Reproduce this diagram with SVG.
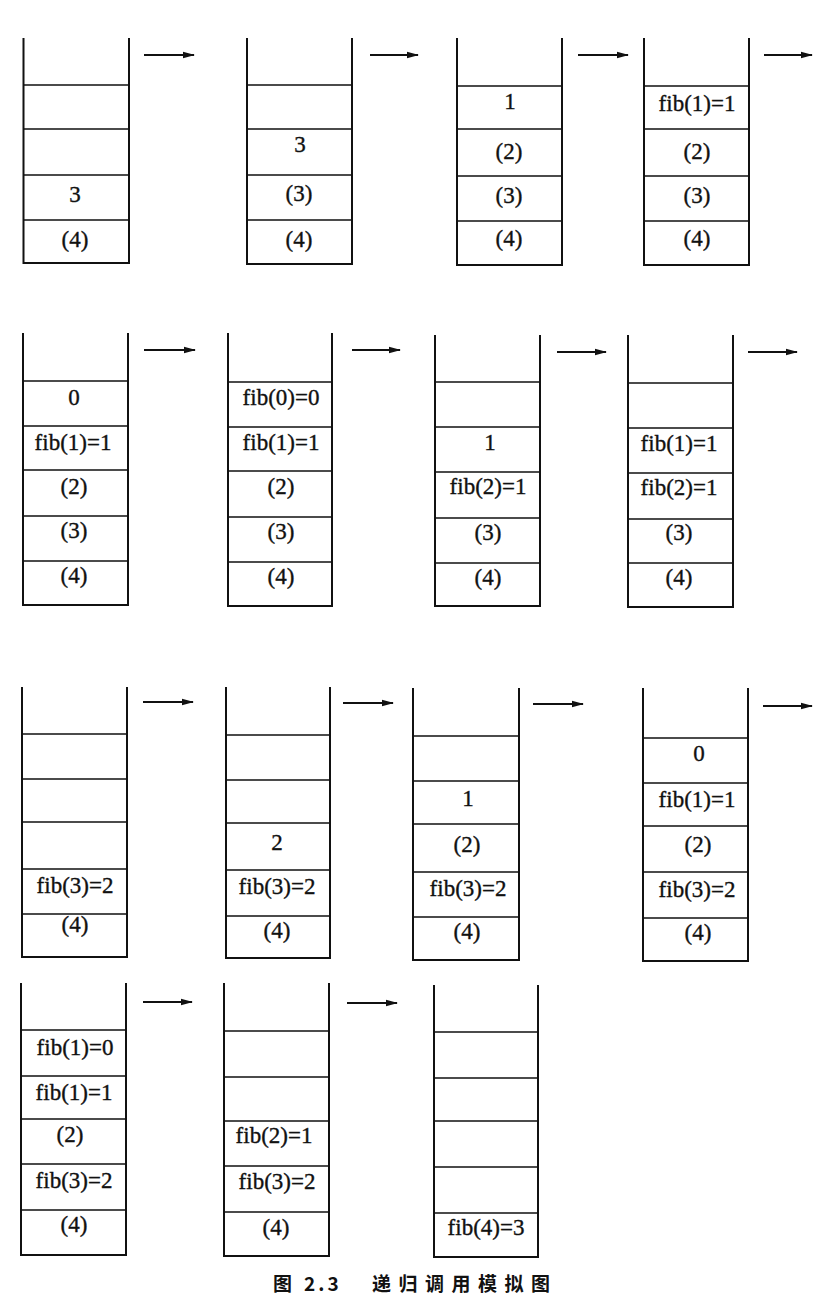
<svg xmlns="http://www.w3.org/2000/svg" width="840" height="1308" viewBox="0 0 840 1308">
<defs>
<style>
.frame{fill:none;stroke:#111;stroke-width:2;stroke-linejoin:miter}
.div{stroke:#111;stroke-width:1.6}
.t{font-family:"Liberation Serif","Times New Roman",serif;font-size:23px;fill:#111;stroke:#111;stroke-width:0.35;text-anchor:middle}
.arrow{stroke:#111;stroke-width:1.8;marker-end:url(#ah)}
.cap{font-family:"Noto Sans CJK SC","Noto Sans",sans-serif;font-size:19px;font-weight:700;fill:#111}
</style>
<marker id="ah" markerUnits="userSpaceOnUse" markerWidth="12" markerHeight="8" refX="11" refY="4" orient="auto">
<path d="M0,0.8 L12,4 L0,7.2 z" fill="#111"/>
</marker>
</defs>
<rect width="840" height="1308" fill="#fff"/>

<!-- Row 1 -->
<g id="stack1">
<path class="frame" d="M23.5,38 V263 H129 V38"/>
<path class="div" d="M23.5,85 H129 M23.5,129 H129 M23.5,175 H129 M23.5,220 H129"/>
<text class="t" x="75" y="202">3</text>
<text class="t" x="75" y="247">(4)</text>
</g>
<g id="stack2">
<path class="frame" d="M247,38 V264 H352 V38"/>
<path class="div" d="M247,85 H352 M247,129 H352 M247,175 H352 M247,220 H352"/>
<text class="t" x="300" y="152">3</text>
<text class="t" x="299" y="201">(3)</text>
<text class="t" x="299" y="247">(4)</text>
</g>
<g id="stack3">
<path class="frame" d="M457,38 V265 H562 V38"/>
<path class="div" d="M457,86 H562 M457,129 H562 M457,176 H562 M457,221 H562"/>
<text class="t" x="510" y="109">1</text>
<text class="t" x="509" y="159">(2)</text>
<text class="t" x="509" y="203">(3)</text>
<text class="t" x="509" y="246">(4)</text>
</g>
<g id="stack4">
<path class="frame" d="M644,38 V265 H749 V38"/>
<path class="div" d="M644,86 H749 M644,129 H749 M644,176 H749 M644,221 H749"/>
<text class="t" x="697" y="111">fib(1)=1</text>
<text class="t" x="697" y="159">(2)</text>
<text class="t" x="697" y="203">(3)</text>
<text class="t" x="697" y="246">(4)</text>
</g>

<!-- Row 2 -->
<g id="stack5">
<path class="frame" d="M23,333 V605 H128 V333"/>
<path class="div" d="M23,381 H128 M23,426 H128 M23,470 H128 M23,516 H128 M23,561 H128"/>
<text class="t" x="74" y="405">0</text>
<text class="t" x="73" y="450">fib(1)=1</text>
<text class="t" x="74" y="494">(2)</text>
<text class="t" x="74" y="538">(3)</text>
<text class="t" x="74" y="583">(4)</text>
</g>
<g id="stack6">
<path class="frame" d="M228,333 V606 H332 V333"/>
<path class="div" d="M228,382 H332 M228,427 H332 M228,471 H332 M228,517 H332 M228,562 H332"/>
<text class="t" x="281" y="405">fib(0)=0</text>
<text class="t" x="281" y="450">fib(1)=1</text>
<text class="t" x="281" y="494">(2)</text>
<text class="t" x="281" y="539">(3)</text>
<text class="t" x="281" y="584">(4)</text>
</g>
<g id="stack7">
<path class="frame" d="M435,335 V606 H540 V335"/>
<path class="div" d="M435,382 H540 M435,427 H540 M435,472 H540 M435,518 H540 M435,563 H540"/>
<text class="t" x="490" y="450">1</text>
<text class="t" x="488" y="494">fib(2)=1</text>
<text class="t" x="488" y="540">(3)</text>
<text class="t" x="488" y="585">(4)</text>
</g>
<g id="stack8">
<path class="frame" d="M628,335 V607 H733 V335"/>
<path class="div" d="M628,383 H733 M628,428 H733 M628,473 H733 M628,519 H733 M628,563 H733"/>
<text class="t" x="679" y="451">fib(1)=1</text>
<text class="t" x="679" y="495">fib(2)=1</text>
<text class="t" x="679" y="540">(3)</text>
<text class="t" x="679" y="585">(4)</text>
</g>

<!-- Row 3 -->
<g id="stack9">
<path class="frame" d="M22,687 V957 H127 V687"/>
<path class="div" d="M22,734 H127 M22,779 H127 M22,822 H127 M22,869 H127 M22,914 H127"/>
<text class="t" x="75" y="893">fib(3)=2</text>
<text class="t" x="75" y="932">(4)</text>
</g>
<g id="stack10">
<path class="frame" d="M226,687 V958 H330 V687"/>
<path class="div" d="M226,735 H330 M226,780 H330 M226,823 H330 M226,870 H330 M226,916 H330"/>
<text class="t" x="277" y="850">2</text>
<text class="t" x="277" y="894">fib(3)=2</text>
<text class="t" x="277" y="938">(4)</text>
</g>
<g id="stack11">
<path class="frame" d="M413,688 V960 H519 V688"/>
<path class="div" d="M413,736 H519 M413,781 H519 M413,824 H519 M413,872 H519 M413,917 H519"/>
<text class="t" x="468" y="806">1</text>
<text class="t" x="467" y="852">(2)</text>
<text class="t" x="468" y="896">fib(3)=2</text>
<text class="t" x="467" y="939">(4)</text>
</g>
<g id="stack12">
<path class="frame" d="M643,688 V961 H748 V688"/>
<path class="div" d="M643,738 H748 M643,783 H748 M643,826 H748 M643,872 H748 M643,918 H748"/>
<text class="t" x="699" y="761">0</text>
<text class="t" x="697" y="807">fib(1)=1</text>
<text class="t" x="698" y="852">(2)</text>
<text class="t" x="697" y="897">fib(3)=2</text>
<text class="t" x="698" y="940">(4)</text>
</g>

<!-- Row 4 -->
<g id="stack13">
<path class="frame" d="M21,983 V1255 H126 V983"/>
<path class="div" d="M21,1030 H126 M21,1076 H126 M21,1119 H126 M21,1164 H126 M21,1210 H126"/>
<text class="t" x="75" y="1055">fib(1)=0</text>
<text class="t" x="74" y="1100">fib(1)=1</text>
<text class="t" x="70" y="1142">(2)</text>
<text class="t" x="74" y="1188">fib(3)=2</text>
<text class="t" x="74" y="1232">(4)</text>
</g>
<g id="stack14">
<path class="frame" d="M224,983 V1256 H329 V983"/>
<path class="div" d="M224,1031 H329 M224,1077 H329 M224,1121 H329 M224,1166 H329 M224,1212 H329"/>
<text class="t" x="274" y="1143">fib(2)=1</text>
<text class="t" x="277" y="1189">fib(3)=2</text>
<text class="t" x="276" y="1235">(4)</text>
</g>
<g id="stack15">
<path class="frame" d="M434,985 V1257 H538 V985"/>
<path class="div" d="M434,1032 H538 M434,1078 H538 M434,1121 H538 M434,1167 H538 M434,1213 H538"/>
<text class="t" x="486" y="1235">fib(4)=3</text>
</g>

<g id="connectors">
<line class="arrow" x1="144" y1="55" x2="194" y2="55"/>
<line class="arrow" x1="370" y1="55" x2="418" y2="55"/>
<line class="arrow" x1="578" y1="55" x2="628" y2="55"/>
<line class="arrow" x1="764" y1="55" x2="812" y2="55"/>
<line class="arrow" x1="144" y1="350" x2="195" y2="350"/>
<line class="arrow" x1="352" y1="350" x2="400" y2="350"/>
<line class="arrow" x1="557" y1="352" x2="606" y2="352"/>
<line class="arrow" x1="748" y1="352" x2="797" y2="352"/>
<line class="arrow" x1="143" y1="702" x2="193" y2="702"/>
<line class="arrow" x1="343" y1="703" x2="393" y2="703"/>
<line class="arrow" x1="533" y1="704" x2="583" y2="704"/>
<line class="arrow" x1="763" y1="706" x2="812" y2="706"/>
<line class="arrow" x1="143" y1="1002" x2="192" y2="1002"/>
<line class="arrow" x1="347" y1="1003" x2="397" y2="1003"/>
</g>

<g id="caption">
<text class="cap" x="273" y="1291">图</text>
<text class="cap" x="304" y="1291" letter-spacing="3">2.3</text>
<text class="cap" x="372" y="1291" letter-spacing="7.5">递归调用模拟图</text>
</g>
</svg>
